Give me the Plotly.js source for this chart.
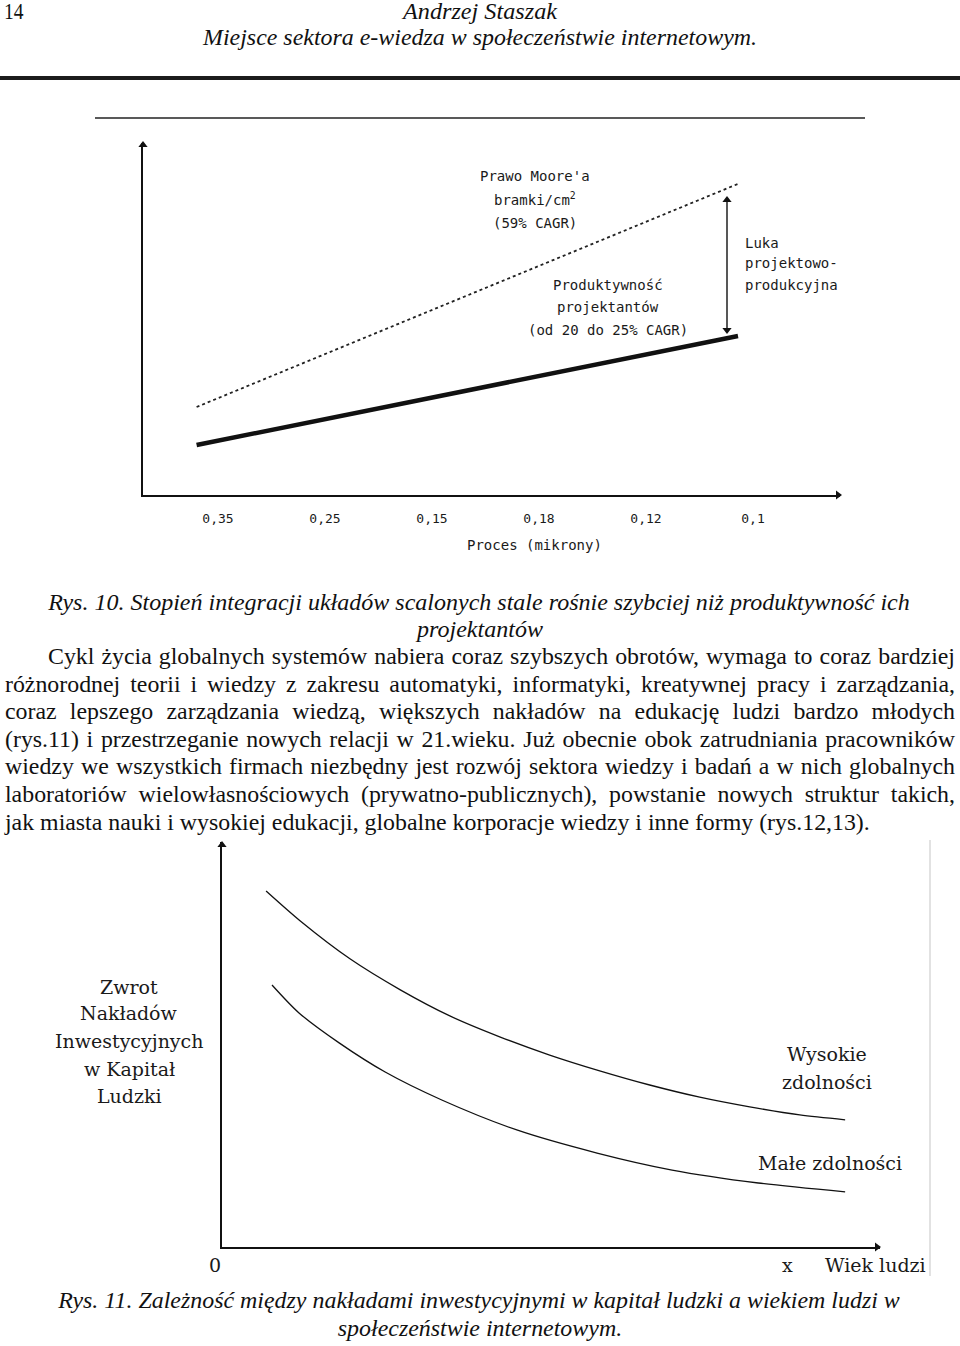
<!DOCTYPE html>
<html><head><meta charset="utf-8">
<script src="https://cdn.plot.ly/plotly-3.0.1.min.js"></script>
<style>
body{margin:0;width:960px;height:1346px;position:relative;background:#fff;overflow:hidden}
#plot{position:absolute;left:0;top:0;width:960px;height:1346px;z-index:1}
.t{position:absolute;font-family:"Liberation Serif","Times New Roman",serif;color:#111;white-space:nowrap;line-height:28px;height:28px;z-index:2}
.h{line-height:22px;height:22px}
.i{font-style:italic}
.rule{position:absolute;background:#1c1c1c;z-index:2}
</style>
</head><body>
<div id="plot"></div>
<div id="texts"></div>
<script>
// ---------- data ----------
const procTicks = ["0,35", "0,25", "0,15", "0,18", "0,12", "0,1"];
const tickPos = [0, 1, 2, 3, 4, 5];
const mooreX = [-0.2, 4.88];
const mooreY = [88, 312];
const designX = [-0.2, 4.86];
const designY = [50, 159];
const ageUpperX = [6.7, 11.9, 19.5, 27.1, 34.7, 42.2, 49.8, 57.4, 65.0, 72.6, 80.2, 87.8, 94.7];
const ageUpperY = [87.9, 80.5, 71.1, 63.5, 57.0, 51.9, 47.4, 43.5, 40.0, 37.0, 34.6, 32.6, 31.4];
const ageLowerX = [7.6, 11.7, 17.8, 24.8, 33.4, 44.8, 57.0, 68.4, 81.5, 94.7];
const ageLowerY = [64.7, 57.8, 50.4, 43.2, 36.3, 28.9, 23.2, 19.0, 15.8, 13.6];
const yLabelLines = ["Zwrot", "Nakładów", "Inwestycyjnych", "w Kapitał", "Ludzki"];

// ---------- page text ----------
const bodyLines = [
 "Cykl życia globalnych systemów nabiera coraz szybszych obrotów, wymaga to coraz bardziej",
 "różnorodnej teorii i wiedzy z zakresu automatyki, informatyki, kreatywnej pracy i zarządzania,",
 "coraz lepszego zarządzania wiedzą, większych nakładów na edukację ludzi bardzo młodych",
 "(rys.11) i przestrzeganie nowych relacji w 21.wieku. Już obecnie obok zatrudniania pracowników",
 "wiedzy we wszystkich firmach niezbędny jest rozwój sektora wiedzy i badań a w nich globalnych",
 "laboratoriów wielowłasnościowych (prywatno-publicznych), powstanie nowych struktur takich,",
 "jak miasta nauki i wysokiej edukacji, globalne korporacje wiedzy i inne formy (rys.12,13)."
];
const bodyY = [659, 687, 714, 742, 769, 797, 825];

const T = document.getElementById('texts');
const cv = document.createElement('canvas').getContext('2d');
function measure(txt, size, italic){ cv.font = (italic?'italic ':'') + size + 'px "Liberation Serif"'; return cv.measureText(txt).width; }
function addText(txt, opts){
  const d = document.createElement('div');
  d.className = 't' + (opts.italic ? ' i' : '') + (opts.hdr ? ' h' : '');
  d.textContent = txt;
  d.style.fontSize = opts.size + 'px';
  d.style.top = (opts.top !== undefined ? opts.top : opts.cy - 17) + 'px';
  if (opts.justify){
    d.style.left = opts.left + 'px';
    d.style.width = (opts.right - opts.left) + 'px';
    d.style.whiteSpace = 'normal';
    d.style.textAlign = 'justify';
    d.style.textAlignLast = 'justify';
  } else if (opts.center !== undefined){
    d.style.width = '960px'; d.style.textAlign = 'center';
    d.style.left = (opts.center - 480) + 'px';
    if (opts.sx) { d.style.transform = 'scaleX(' + opts.sx + ')'; d.style.transformOrigin = '480px 0'; }
  } else {
    d.style.left = opts.left + 'px';
    if (opts.sx) { d.style.transform = 'scaleX(' + opts.sx + ')'; d.style.transformOrigin = '0 0'; }
  }
  T.appendChild(d);
  return d;
}
// body font size fitted to last (unjustified) line
const F = 20 * 865 / measure(bodyLines[6], 20, false);
bodyLines.forEach((l, k) => {
  const left = k === 0 ? 48 : 5;
  if (k === 6) { addText(l, {size: F, cy: bodyY[k], left: 5}); return; }
  let fs = F; const w = 955 - left;
  if (measure(l, fs, false) > w - 2) fs = fs * (w - 2) / measure(l, fs, false);
  addText(l, {size: fs, cy: bodyY[k], left: left, right: 955, justify: true});
});
// header
const hdrFs = 23;
addText("14", {size: 23, top: 1, left: 4, sx: 0.85, hdr: true});
addText("Andrzej Staszak", {size: hdrFs, italic: true, top: 1, hdr: true, center: 480, sx: 154 / measure("Andrzej Staszak", hdrFs, true)});
const h2 = "Miejsce sektora e-wiedza w społeczeństwie internetowym.";
addText(h2, {size: hdrFs, italic: true, top: 27, hdr: true, center: 480, sx: 554 / measure(h2, hdrFs, true)});
const r = document.createElement('div'); r.className = 'rule';
r.style.left = '0px'; r.style.top = '76px'; r.style.width = '960px'; r.style.height = '4px'; T.appendChild(r);
// captions
const c1 = "Rys. 10. Stopień integracji układów scalonych stale rośnie szybciej niż produktywność ich";
const cf1 = 20 * 862 / measure(c1, 20, true);
addText(c1, {size: cf1, italic: true, cy: 605, center: 479});
addText("projektantów", {size: cf1, italic: true, cy: 632, center: 480});
const c2 = "Rys. 11. Zależność między nakładami inwestycyjnymi w kapitał ludzki a wiekiem ludzi w";
const cf2 = 20 * 842 / measure(c2, 20, true);
addText(c2, {size: cf2, italic: true, cy: 1303, center: 479});
addText("społeczeństwie internetowym.", {size: cf2, italic: true, cy: 1331, center: 480});

// ---------- chart ----------
const W = 960, H = 1346;
const py = p => 1 - p / H, px = p => p / W;
const X0 = 218, DX = 107, Y0 = 495;           // top chart pixel anchors
const tx = p => (p - X0) / DX, ty = p => Y0 - p;
const bx = p => (p - 222) / 6.58, by = p => (1247 - p) / 4.05;

const head = (x, y, sym, xa, ya) => ({x: [x], y: [y], mode: 'markers', marker: {symbol: sym, size: 8, color: '#111'}, xaxis: xa, yaxis: ya, cliponaxis: false, hoverinfo: 'skip'});
const traces = [
  {x: mooreX, y: mooreY, mode: 'lines', line: {color: '#222', width: 1.8, dash: 'dot'}, xaxis: 'x', yaxis: 'y', hoverinfo: 'skip'},
  {x: designX, y: designY, mode: 'lines', line: {color: '#111', width: 4.5}, xaxis: 'x', yaxis: 'y', hoverinfo: 'skip'},
  // design-productivity gap arrow
  {x: [tx(727), tx(727)], y: [ty(199), ty(331)], mode: 'lines', line: {color: '#111', width: 1.4}, xaxis: 'x', yaxis: 'y', hoverinfo: 'skip'},
  head(tx(727), ty(200), 'triangle-up', 'x', 'y'),
  head(tx(727), ty(330), 'triangle-down', 'x', 'y'),
  // axis arrowheads
  head(tx(143), ty(145), 'triangle-up', 'x', 'y'),
  head(tx(838), 0, 'triangle-right', 'x', 'y'),
  {x: ageUpperX, y: ageUpperY, mode: 'lines', line: {color: '#111', width: 1.3, shape: 'spline', smoothing: 0.8}, xaxis: 'x2', yaxis: 'y2', hoverinfo: 'skip'},
  {x: ageLowerX, y: ageLowerY, mode: 'lines', line: {color: '#111', width: 1.3, shape: 'spline', smoothing: 0.8}, xaxis: 'x2', yaxis: 'y2', hoverinfo: 'skip'},
  head(0, by(845), 'triangle-up', 'x2', 'y2'),
  head(bx(877), 0, 'triangle-right', 'x2', 'y2')
];

const axBase = {showgrid: false, zeroline: false, showline: true, linecolor: '#111', linewidth: 1.6, ticks: '', fixedrange: true};
const topFont = {family: 'DejaVu Sans Mono', size: 14, color: '#1a1a1a'};
const botFont = {family: 'DejaVu Serif', size: 19, color: '#1a1a1a'};

const ann = [];
// text placed by page pixel position (paper coordinates)
function pa(text, x, y, font, xanchor){ ann.push({text, x: px(x), y: py(y), xref: 'paper', yref: 'paper', showarrow: false, font, xanchor: xanchor || 'center', yanchor: 'middle'}); }
// top chart labels
pa("Prawo Moore'a", 535, 176, topFont);
pa("bramki/cm<sup>2</sup>", 535, 199, topFont);
pa("(59% CAGR)", 535, 223, topFont);
pa("Produktywność", 608, 285, topFont);
pa("projektantów", 608, 307, topFont);
pa("(od 20 do 25% CAGR)", 608, 330, topFont);
pa("Luka", 743, 243, topFont, 'left');
pa("projektowo-", 743, 263, topFont, 'left');
pa("produkcyjna", 743, 285, topFont, 'left');
pa("Proces (mikrony)", 534, 545, topFont);
// bottom chart labels
const ylY = [987, 1013, 1041, 1069, 1096];
yLabelLines.forEach((t, k) => pa(t, 129, ylY[k], botFont));
pa("Wysokie", 827, 1054, botFont);
pa("zdolności", 827, 1082, botFont);
pa("Małe zdolności", 830, 1163, botFont);
pa("0", 215, 1265, botFont);
pa("x", 787, 1265, botFont);
pa("Wiek ludzi", 875, 1265, botFont);

const layout = {
  width: W, height: H, margin: {l: 0, r: 0, t: 0, b: 0, pad: 0},
  paper_bgcolor: 'rgba(0,0,0,0)', plot_bgcolor: 'rgba(0,0,0,0)', showlegend: false,
  xaxis: Object.assign({}, axBase, {domain: [px(143), px(840)], range: [tx(143), tx(840)], anchor: 'y',
    tickvals: tickPos, ticktext: procTicks, tickfont: {family: 'DejaVu Sans Mono', size: 13, color: '#1a1a1a'}, ticklabelstandoff: 11}),
  yaxis: Object.assign({}, axBase, {domain: [py(495), py(143)], range: [0, ty(143)], anchor: 'x', showticklabels: false}),
  xaxis2: Object.assign({}, axBase, {domain: [px(222), px(880)], range: [0, 100], anchor: 'y2', showticklabels: false}),
  yaxis2: Object.assign({}, axBase, {domain: [py(1247), py(842)], range: [0, 100], anchor: 'x2', showticklabels: false}),
  annotations: ann,
  shapes: [
    {type: 'line', xref: 'paper', yref: 'paper', x0: px(95), x1: px(865), y0: py(118), y1: py(118), line: {color: '#222', width: 1.5}},
    {type: 'line', xref: 'paper', yref: 'paper', x0: px(930), x1: px(930), y0: py(840), y1: py(1276), line: {color: '#d8d8d8', width: 1.5}}
  ]
};
Plotly.newPlot('plot', traces, layout, {staticPlot: true, displayModeBar: false});
</script>
</body></html>
